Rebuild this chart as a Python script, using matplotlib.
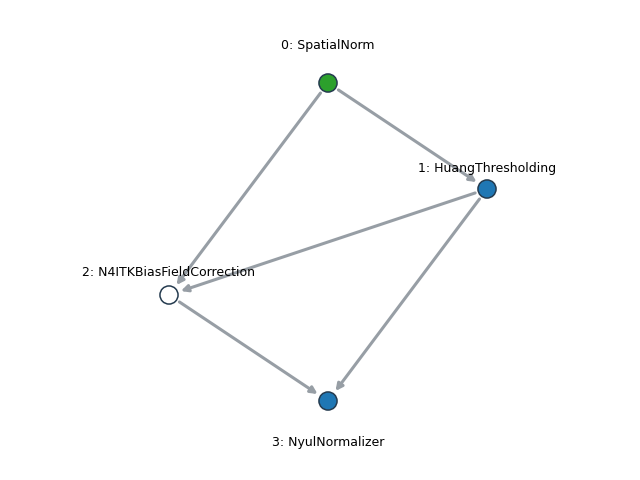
import matplotlib
matplotlib.use("Agg")
import matplotlib.pyplot as plt
from matplotlib.patches import FancyArrowPatch

# node data
names = ["0: SpatialNorm", "1: HuangThresholding", "2: N4ITKBiasFieldCorrection", "3: NyulNormalizer"]
xs = [0, 1, -1, 0]
ys = [3, 2, 1, 0]
colors = ["#2ca02c", "#1f77b4", "#ffffff", "#1f77b4"]
edges = [(0, 1), (0, 2), (1, 2), (1, 3), (2, 3)]
label_dy = [27, 15, 16, -30]  # points

fig = plt.figure(figsize=(6.4, 4.8), dpi=100)
ax = fig.add_axes([0, 0, 1, 1])
ax.set_xlim(-328 / 159, 312 / 159)
ax.set_ylim(-79 / 106, 401 / 106)
ax.axis("off")

for a, b in edges:
    arr = FancyArrowPatch((xs[a], ys[a]), (xs[b], ys[b]), arrowstyle="-|>",
                          mutation_scale=10, color="#979ea5", lw=2.2,
                          shrinkA=9, shrinkB=9, zorder=1)
    ax.add_patch(arr)

ax.scatter(xs, ys, s=170, c=colors, edgecolors="#253b4f", linewidths=1.1, zorder=3)

for i, name in enumerate(names):
    ax.annotate(name, (xs[i], ys[i]), xytext=(0, label_dy[i]), textcoords="offset points",
                ha="center", va="center", fontsize=9)

fig.savefig("out.png")
